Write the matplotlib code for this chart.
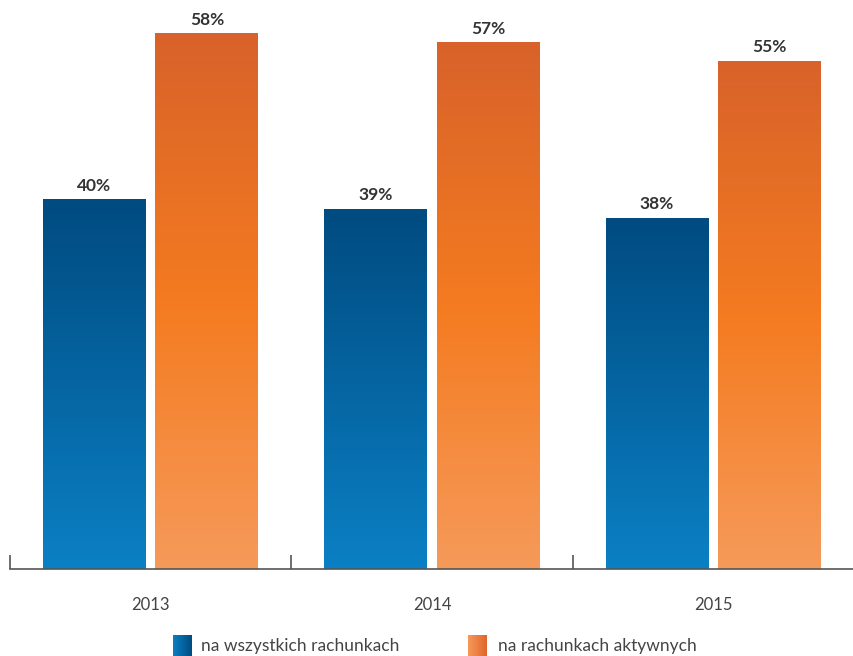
import numpy as np
import matplotlib.pyplot as plt
from matplotlib.colors import LinearSegmentedColormap

years = ['2013', '2014', '2015']
all_accounts = [40, 39, 38]
active_accounts = [58, 57, 55]
legend_labels = ['na wszystkich rachunkach', 'na rachunkach aktywnych']

plt.rcParams['font.family'] = ['Lato', 'DejaVu Sans']

# colormaps run bottom -> top of each bar
blue_cmap = LinearSegmentedColormap.from_list('blue', ['#0b80c4', '#004b80'])
orange_cmap = LinearSegmentedColormap.from_list(
    'orange', [(0, '#f69a5a'), (0.5, '#f47b20'), (1, '#d8622a')])

fig = plt.figure(figsize=(8.54, 6.56), dpi=100)
ax = fig.add_axes([10/854, 1-569/656, 1-10/854, 569/656])

x = np.arange(len(years))
w = 0.366
off = 0.2
grad = np.linspace(0, 1, 256).reshape(-1, 1)


def gradient_bars(xs, vals, cmap):
    bars = ax.bar(xs, vals, w, color='none', edgecolor='none')
    for b, v in zip(bars, vals):
        x0, y0 = b.get_xy()
        im = ax.imshow(grad, cmap=cmap, origin='lower', aspect='auto',
                       extent=[x0, x0 + b.get_width(), y0, y0 + b.get_height()],
                       zorder=2, interpolation='bilinear')
        im.set_clip_path(b)
        ax.text(x0 + b.get_width()/2, v + 0.6, f'{v}%', ha='center', va='bottom',
                fontsize=12.5, fontweight='bold', color='#333333')
    return bars


gradient_bars(x - off, all_accounts, blue_cmap)
gradient_bars(x + off, active_accounts, orange_cmap)

ax.set_xlim(-0.5, 2.446)
ax.set_ylim(0, 569/9.24)

for s in ['top', 'right', 'left']:
    ax.spines[s].set_visible(False)
ax.spines['bottom'].set_color('#555555')
ax.spines['bottom'].set_linewidth(1.2)
ax.set_yticks([])

ax.set_xticks(x)
ax.set_xticklabels(years, fontsize=12, color='#444444')
ax.tick_params(axis='x', which='major', length=0, pad=20)
ax.set_xticks([-0.5, 0.5, 1.5, 2.5], minor=True)
ax.tick_params(axis='x', which='minor', direction='in', length=10,
               width=1.2, color='#555555')

# legend: small squares with horizontal gradients
hgrad = np.linspace(0, 1, 256).reshape(1, -1)
legend_items = [
    (173, LinearSegmentedColormap.from_list('lb', ['#0b80c4', '#004b80']), 201),
    (468, LinearSegmentedColormap.from_list('lo', ['#f69a5a', '#e0652a']), 498),
]
for (px, cmap, tx), label in zip(legend_items, legend_labels):
    lax = fig.add_axes([px/854, 0, 19/854, 21/656])
    lax.imshow(hgrad, cmap=cmap, aspect='auto', interpolation='bilinear')
    lax.axis('off')
    fig.text(tx/854, 1 - 646/656, label, ha='left', va='center',
             fontsize=12.5, color='#444444')

fig.savefig('out.png', dpi=100)
